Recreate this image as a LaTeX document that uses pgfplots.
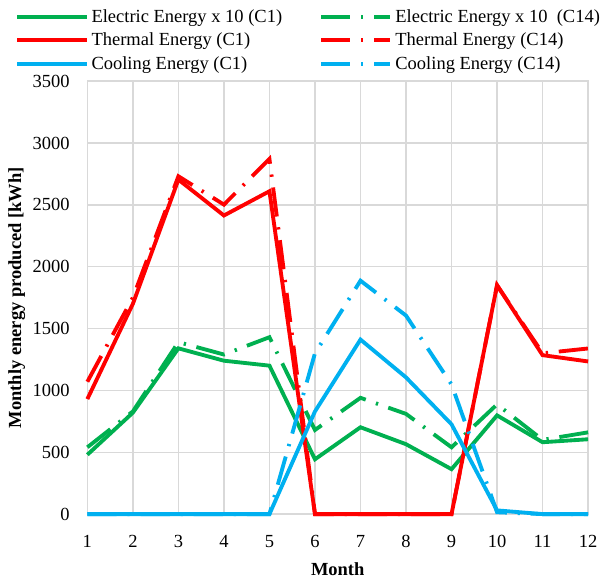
\documentclass[border=0pt]{standalone}
\usepackage{fontspec}
\setmainfont{Liberation Serif}
\usepackage{pgfplots}
\pgfplotsset{compat=1.18}
\definecolor{eg}{RGB}{0,176,80}
\definecolor{er}{RGB}{255,0,0}
\definecolor{eb}{RGB}{0,176,240}
\definecolor{gridc}{RGB}{217,217,217}
\begin{document}
\begin{tikzpicture}
\begin{axis}[
  scale only axis,
  width=325pt, height=281pt,
  xmin=1, xmax=12, ymin=0, ymax=3500,
  xtick={1,...,12},
  ytick={0,500,...,3500},
  grid=major,
  major grid style={gridc, line width=0.9pt},
  axis line style={gridc, line width=0.9pt},
  major tick length=0pt,
  /pgf/number format/assume math mode=true,
  /pgf/number format/1000 sep={},
  tick label style={font=\fontsize{12}{14}\selectfont},
  yticklabel style={xshift=-8pt},
  xticklabel style={yshift=-10pt},
  xlabel={\textbf{Month}},
  ylabel={\textbf{Monthly energy produced [kWh]}},
  label style={font=\fontsize{12}{14}\selectfont},
  xlabel style={yshift=-3pt},
  ylabel style={yshift=-2pt},
  clip=false,
  legend columns=2,
  legend cell align=left,
  legend style={draw=none, fill=none, at={(axis description cs:0,1)}, anchor=south west,
    xshift=-47pt, yshift=4pt, inner sep=0pt,
    font=\fontsize{12}{14}\selectfont,
    /tikz/every even column/.append style={column sep=22pt},
    row sep=1.5pt},
  legend image code/.code={\draw[#1] (0pt,0pt) -- (45pt,0pt);},
  every axis plot/.append style={line width=2.5pt},
]
\addplot[eg] coordinates {(1,480)(2,820)(3,1340)(4,1240)(5,1200)(6,443)(7,702)(8,565)(9,363)(10,798)(11,581)(12,605)};
\addlegendentry{Electric Energy x 10 (C1)}
\addplot[eg, dash pattern=on 19pt off 7pt on 1.5pt off 7pt] coordinates {(1,540)(2,830)(3,1390)(4,1290)(5,1430)(6,680)(7,940)(8,810)(9,540)(10,887)(11,600)(12,661)};
\addlegendentry{Electric Energy x 10\ \ (C14)}
\addplot[er] coordinates {(1,930)(2,1700)(3,2704)(4,2414)(5,2610)(6,0)(7,0)(8,0)(9,0)(10,1850)(11,1285)(12,1234)};
\addlegendentry{Thermal Energy (C1)}
\addplot[er, dash pattern=on 19pt off 7pt on 1.5pt off 7pt] coordinates {(1,1070)(2,1750)(3,2731)(4,2502)(5,2871)(6,0)(7,0)(8,0)(9,0)(10,1850)(11,1300)(12,1339)};
\addlegendentry{Thermal Energy (C14)}
\addplot[eb] coordinates {(1,0)(2,0)(3,0)(4,0)(5,0)(6,830)(7,1411)(8,1105)(9,726)(10,30)(11,0)(12,0)};
\addlegendentry{Cooling Energy (C1)}
\addplot[eb, dash pattern=on 19pt off 7pt on 1.5pt off 7pt] coordinates {(1,0)(2,0)(3,0)(4,0)(5,0)(6,1300)(7,1887)(8,1605)(9,1048)(10,15)(11,0)(12,0)};
\addlegendentry{Cooling Energy (C14)}
\end{axis}
\path ([yshift=4pt]current bounding box.north);
\path ([yshift=-3pt]current bounding box.south);
\path ([xshift=-2pt]current bounding box.west);
\end{tikzpicture}
\end{document}
